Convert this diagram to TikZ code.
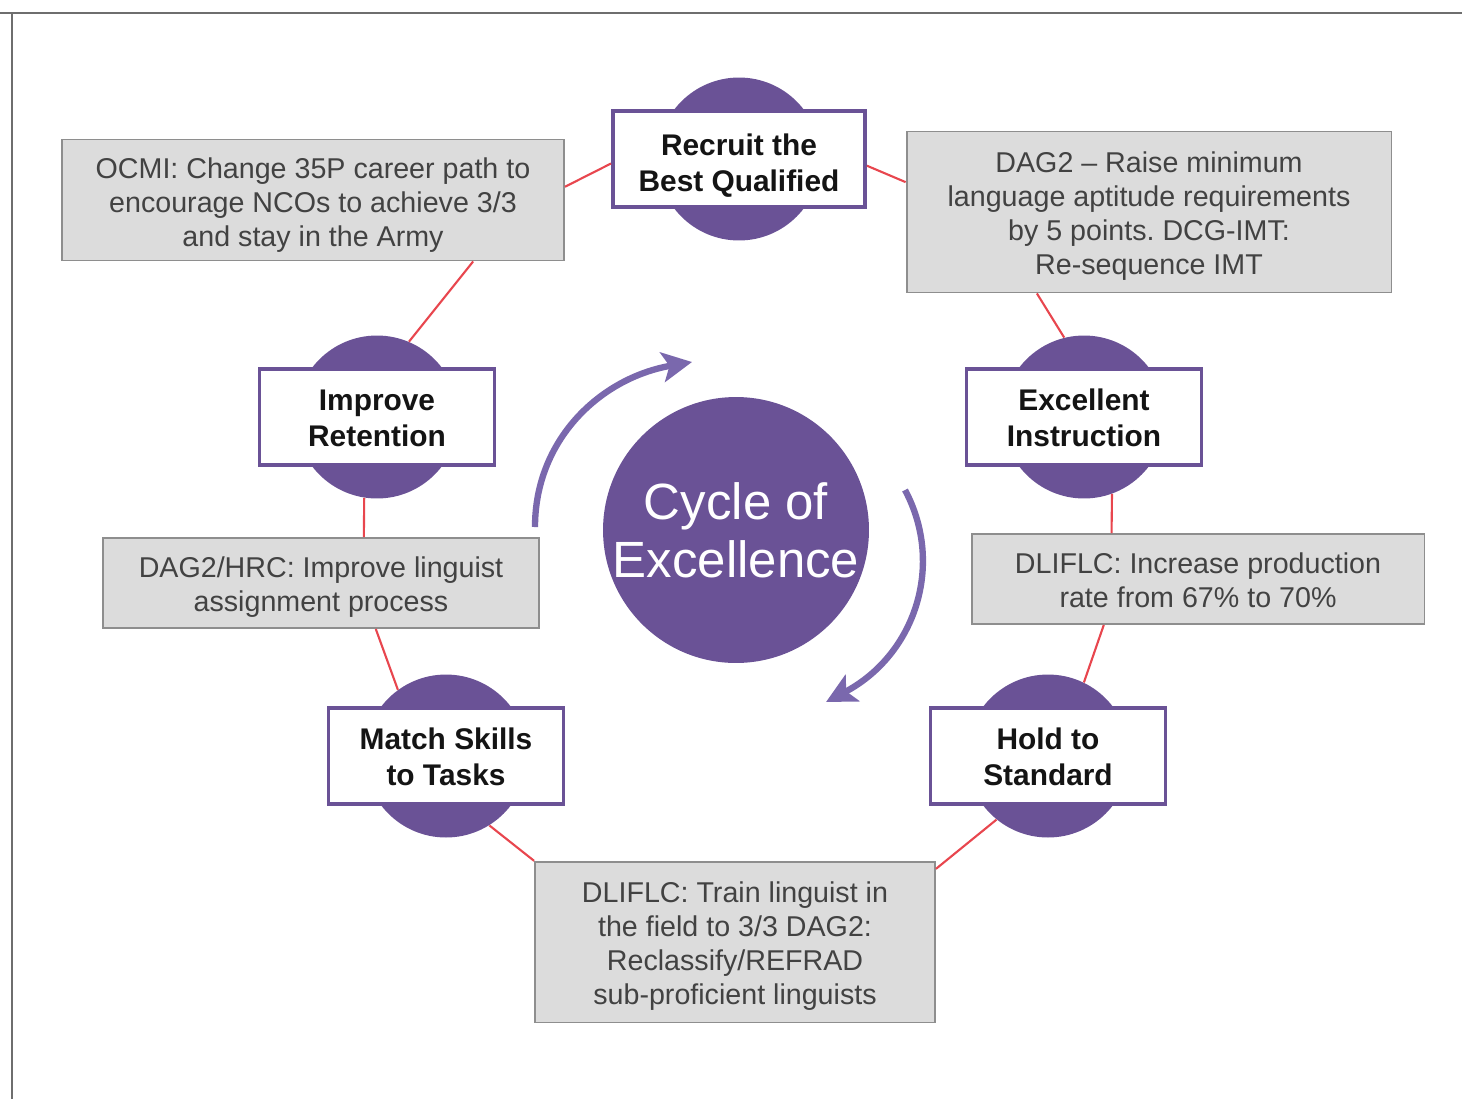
\documentclass[tikz,border=0pt]{standalone}
\usepackage{fontspec}
\setmainfont{Liberation Sans}
\usetikzlibrary{arrows.meta}
\frenchspacing
\definecolor{cyclepurple}{HTML}{6A5296}
\definecolor{arcpurple}{HTML}{7A68AD}
\definecolor{linkred}{HTML}{E8464E}
\definecolor{notegray}{HTML}{DCDCDC}
\definecolor{noteedge}{HTML}{8E8E8E}
\definecolor{notetext}{HTML}{424242}
\definecolor{framegray}{HTML}{6E6E6E}
% centred lines, set a little lower than the middle of the box
\newcommand{\sunk}[2]{\raisebox{-#1}[\height][\depth]{\begin{tabular}{@{}c@{}}#2\end{tabular}}}
\tikzset{
  disc/.style={circle, fill=cyclepurple, minimum size=3.26cm, inner sep=0pt},
  stage/.style={draw=cyclepurple, line width=2.2pt, fill=white, inner sep=0pt,
    minimum width=4.7cm, minimum height=1.92cm,
    font=\fontsize{17}{20.5}\selectfont\bfseries, text=black!92},
  note/.style={draw=noteedge, line width=1.1pt, fill=notegray, inner sep=0pt,
    font=\fontsize{16.3}{19.4}\selectfont, text=notetext},
  link/.style={linkred, line width=1.2pt},
  turn/.style={arcpurple, line width=3.6pt,
    -{Stealth[length=17pt, width=17pt, inset=4pt]}}
}

\begin{document}
\begin{tikzpicture}[x=0.02cm, y=-0.02cm]
    \useasboundingbox (0,0) rectangle (1462,1099);
    % page frame
    \draw[framegray, line width=1.2pt] (0,13) -- (1462,13);
    \draw[framegray, line width=1.2pt] (12,13) -- (12,1099);
    % centre
    \node[circle, fill=cyclepurple, minimum size=5.32cm, inner sep=0pt, align=center,
          text=white, font=\fontsize{29}{33}\selectfont] (cycle) at (736,530)
          {Cycle of\\Excellence};
    % stages: disc behind, box on top
    \node[disc] (recruit_disc) at (739,159) {};
    \node[stage, minimum width=5.04cm] (recruit) at (recruit_disc) {\sunk{4pt}{Recruit the\\Best Qualified}};
    \node[disc] (instruct_disc) at (1084,417) {};
    \node[stage] (instruct) at (instruct_disc) {\sunk{2.4pt}{Excellent\\Instruction}};
    \node[disc] (hold_disc) at (1048,756) {};
    \node[stage] (hold) at (hold_disc) {\sunk{2.4pt}{Hold to\\Standard}};
    \node[disc] (match_disc) at (446,756) {};
    \node[stage] (match) at (match_disc) {\sunk{2.4pt}{Match Skills\\to Tasks}};
    \node[disc] (retain_disc) at (377,417) {};
    \node[stage] (retain) at (retain_disc) {\sunk{2.4pt}{Improve\\Retention}};
    % actions
    \node[note, minimum width=10.04cm, minimum height=2.42cm] (ocmi_note) at (313,200)
        {\sunk{3.2pt}{OCMI: Change 35P career path to\\encourage NCOs to achieve 3/3\\and stay in the Army}};
    \node[note, minimum width=9.7cm, minimum height=3.22cm] (dag_note) at (1149,212)
        {\sunk{2.6pt}{DAG2 -- Raise minimum\\language aptitude requirements\\by 5 points. DCG-IMT:\\Re-sequence IMT}};
    \node[note, minimum width=9.06cm, minimum height=1.8cm] (rate_note) at (1198,579)
        {\sunk{2.6pt}{DLIFLC: Increase production\\rate from 67\% to 70\%}};
    \node[note, minimum width=8cm, minimum height=3.22cm] (train_note) at (735,942)
        {\sunk{2.6pt}{DLIFLC: Train linguist in\\the field to 3/3 DAG2:\\Reclassify/REFRAD\\sub-proficient linguists}};
    \node[note, minimum width=8.72cm, minimum height=1.8cm] (hrc_note) at (321,583)
        {\sunk{2.6pt}{DAG2/HRC: Improve linguist\\assignment process}};
    % red links round the ring
    \draw[link] (ocmi_note.3) -- (recruit.182);
    \draw[link] (recruit.357) -- (dag_note.173);
    \draw[link] (dag_note.216) -- (instruct_disc.104);
    \draw[link] (instruct_disc.290) -- (rate_note.152);
    \draw[link] (rate_note.206) -- (hold_disc.64);
    \draw[link] (hold_disc.231) -- (train_note.20);
    \draw[link] (train_note.158) -- (match_disc.302);
    \draw[link] (match_disc.126) -- (hrc_note.320);
    \draw[link] (hrc_note.47) -- (retain_disc.261);
    \draw[link] (retain_disc.67) -- (ocmi_note.339);
    % turning arrows
    \coordinate (turn_l_from) at (535,527);
    \coordinate (turn_l_to) at (692,362);
    \coordinate (turn_r_from) at (905,490);
    \coordinate (turn_r_to) at (826,702);
    \draw[turn] (turn_l_from) .. controls (535,440) and (600,378) .. (turn_l_to);
    \draw[turn] (turn_r_from) .. controls (945,565) and (915,655) .. (turn_r_to);
\end{tikzpicture}
\end{document}
